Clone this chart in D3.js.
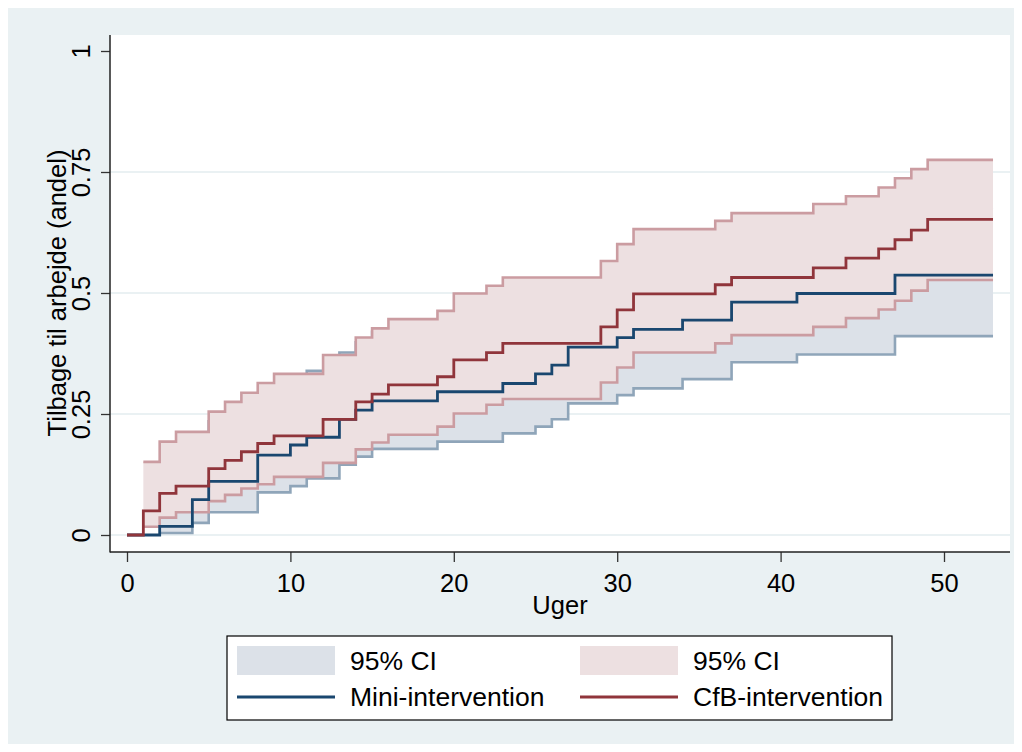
<!DOCTYPE html>
<html>
<head>
<meta charset="utf-8">
<script src="https://cdn.jsdelivr.net/npm/d3@7"></script>
<style>
  body { margin: 0; background: #fff; }
  svg text { font-family: "Liberation Sans", Arial, sans-serif; fill: #000; }
</style>
</head>
<body>
<div id="chart"></div>
<script>
// Mini-intervention: trin-tider (uger) og kumuleret andel tilbage i arbejde
const miniWeeks = [0, 2, 4, 5, 8, 10, 11, 13, 14, 15, 19, 23, 25, 26, 27, 30, 31, 34, 37, 41, 47, 53];
const miniEst   = [0, 0.018, 0.073, 0.111, 0.165, 0.186, 0.202, 0.239, 0.258, 0.277, 0.296, 0.313, 0.333, 0.351, 0.388, 0.408, 0.425, 0.444, 0.481, 0.499, 0.537, 0.537];

const miniCiWeeks = [2, 4, 5, 8, 10, 11, 13, 14, 15, 19, 23, 25, 26, 27, 30, 31, 34, 37, 41, 47, 53];
const miniLower   = [0.004, 0.025, 0.047, 0.088, 0.101, 0.117, 0.145, 0.162, 0.178, 0.193, 0.210, 0.224, 0.239, 0.272, 0.289, 0.303, 0.322, 0.357, 0.373, 0.411, 0.411];
const miniUpper   = [0.125, 0.19, 0.235, 0.29, 0.315, 0.339, 0.377, 0.398, 0.42, 0.44, 0.46, 0.48, 0.50, 0.525, 0.55, 0.565, 0.585, 0.62, 0.64, 0.673, 0.673];

// CfB-intervention
const cfbWeeks = [0, 1, 2, 3, 5, 6, 7, 8, 9, 12, 14, 15, 16, 19, 20, 22, 23, 29, 30, 31, 36, 37, 42, 44, 46, 47, 48, 49, 53];
const cfbEst   = [0, 0.050, 0.086, 0.101, 0.137, 0.154, 0.172, 0.189, 0.205, 0.239, 0.275, 0.291, 0.310, 0.327, 0.362, 0.377, 0.396, 0.430, 0.465, 0.498, 0.517, 0.532, 0.552, 0.572, 0.591, 0.610, 0.630, 0.652, 0.652];

const cfbCiWeeks = [1, 2, 3, 5, 6, 7, 8, 9, 12, 14, 15, 16, 19, 20, 22, 23, 29, 30, 31, 36, 37, 42, 44, 46, 47, 48, 49, 53];
const cfbLower   = [0.017, 0.036, 0.047, 0.070, 0.083, 0.096, 0.105, 0.120, 0.149, 0.177, 0.191, 0.207, 0.224, 0.251, 0.269, 0.281, 0.315, 0.346, 0.377, 0.396, 0.413, 0.430, 0.448, 0.466, 0.484, 0.505, 0.527, 0.527];
const cfbUpper   = [0.151, 0.193, 0.213, 0.255, 0.275, 0.294, 0.314, 0.333, 0.372, 0.408, 0.427, 0.446, 0.463, 0.499, 0.515, 0.532, 0.566, 0.601, 0.632, 0.649, 0.665, 0.684, 0.700, 0.718, 0.737, 0.756, 0.775, 0.775];

const xTicks = [0, 10, 20, 30, 40, 50];
const yTicks = [0, 0.25, 0.5, 0.75, 1];
const yTickLabels = ["0", "0.25", "0.5", "0.75", "1"];

const W = 1022, H = 752;
const plot = { left: 110, right: 1010, top: 35, bottom: 552 };
const fontSize = "25.5px";

const svg = d3.select("#chart").append("svg")
    .attr("width", W)
    .attr("height", H);

// bagrund
svg.append("rect").attr("x", 0).attr("y", 0).attr("width", W).attr("height", H).attr("fill", "#fff");
svg.append("rect").attr("x", 8).attr("y", 8).attr("width", W - 16).attr("height", H - 16).attr("fill", "#eaf1f3");
svg.append("rect")
    .attr("x", plot.left).attr("y", plot.top)
    .attr("width", plot.right - plot.left).attr("height", plot.bottom - plot.top)
    .attr("fill", "#fff");

const x = d3.scaleLinear().domain([0, 50]).range([127, 944]);
const y = d3.scaleLinear().domain([0, 1]).range([535, 51]);

// gitterlinjer
svg.selectAll(".grid")
    .data(yTicks.slice(0, 4))
    .enter()
    .append("line")
    .attr("x1", plot.left).attr("x2", plot.right)
    .attr("y1", d => y(d)).attr("y2", d => y(d))
    .attr("stroke", "#eaf1f3")
    .attr("stroke-width", 2);

const toPts = (weeks, vals) => weeks.map((w, i) => ({ w: w, v: vals[i] }));
const toBand = (weeks, lo, hi) => weeks.map((w, i) => ({ w: w, lo: lo[i], hi: hi[i] }));

const line = d3.line()
    .x(d => x(d.w))
    .y(d => y(d.v))
    .curve(d3.curveStepAfter);

const area = d3.area()
    .x(d => x(d.w))
    .y0(d => y(d.lo))
    .y1(d => y(d.hi))
    .curve(d3.curveStepAfter);

const series = [
    { name: "mini", band: toBand(miniCiWeeks, miniLower, miniUpper),
      lo: toPts(miniCiWeeks, miniLower), hi: toPts(miniCiWeeks, miniUpper),
      est: toPts(miniWeeks, miniEst),
      fill: "#dce1e8", edge: "#8fa5b9", color: "#1a476f" },
    { name: "cfb", band: toBand(cfbCiWeeks, cfbLower, cfbUpper),
      lo: toPts(cfbCiWeeks, cfbLower), hi: toPts(cfbCiWeeks, cfbUpper),
      est: toPts(cfbWeeks, cfbEst),
      fill: "#ede0e1", edge: "#cb9ca1", color: "#90353b" }
];

// konfidensbånd
series.forEach(s => {
    svg.append("path")
        .attr("d", area(s.band))
        .attr("fill", s.fill);
    [s.lo, s.hi].forEach(b => {
        svg.append("path")
            .attr("d", line(b))
            .attr("fill", "none")
            .attr("stroke", s.edge)
            .attr("stroke-width", 2.6);
    });
});

// estimater
series.forEach(s => {
    svg.append("path")
        .attr("d", line(s.est))
        .attr("fill", "none")
        .attr("stroke", s.color)
        .attr("stroke-width", 2.8);
});

// akser
const yAxis = svg.append("g")
    .attr("transform", "translate(" + plot.left + ",0)")
    .call(d3.axisLeft(y).tickValues(yTicks).tickSize(9).tickFormat((d, i) => yTickLabels[i]));
yAxis.select(".domain").remove();
yAxis.selectAll(".tick line").attr("stroke", "#333").attr("stroke-width", 1.3);
yAxis.selectAll(".tick text")
    .attr("x", null).attr("dy", null)
    .attr("transform", "translate(-20,0) rotate(-90)")
    .attr("text-anchor", "middle")
    .style("font-size", fontSize);

const xAxis = svg.append("g")
    .attr("transform", "translate(0," + plot.bottom + ")")
    .call(d3.axisBottom(x).tickValues(xTicks).tickSize(10).tickFormat(d3.format("d")));
xAxis.select(".domain").remove();
xAxis.selectAll(".tick line").attr("stroke", "#333").attr("stroke-width", 1.3);
xAxis.selectAll(".tick text")
    .attr("y", 40).attr("dy", null)
    .style("font-size", fontSize);

svg.append("line")
    .attr("x1", plot.left).attr("x2", plot.left)
    .attr("y1", plot.top).attr("y2", plot.bottom + 0.5)
    .attr("stroke", "#222").attr("stroke-width", 1.5);
svg.append("line")
    .attr("x1", plot.left).attr("x2", plot.right)
    .attr("y1", plot.bottom).attr("y2", plot.bottom)
    .attr("stroke", "#222").attr("stroke-width", 1.5);

// aksetitler
svg.append("text")
    .attr("x", (plot.left + plot.right) / 2)
    .attr("y", 614)
    .attr("text-anchor", "middle")
    .style("font-size", fontSize)
    .text("Uger");

svg.append("text")
    .attr("transform", "translate(66," + y(0.5) + ") rotate(-90)")
    .attr("text-anchor", "middle")
    .style("font-size", fontSize)
    .text("Tilbage til arbejde (andel)");

// forklaring
const legend = svg.append("g");
legend.append("rect")
    .attr("x", 227).attr("y", 636)
    .attr("width", 665).attr("height", 84)
    .attr("fill", "#fff")
    .attr("stroke", "#000").attr("stroke-width", 1.2);

const legendItems = [
    { col: 0, row: 0, kind: "box", color: series[0].fill, label: "95% CI" },
    { col: 1, row: 0, kind: "box", color: series[1].fill, label: "95% CI" },
    { col: 0, row: 1, kind: "line", color: series[0].color, label: "Mini-intervention" },
    { col: 1, row: 1, kind: "line", color: series[1].color, label: "CfB-intervention" }
];
legendItems.forEach(it => {
    const x0 = it.col === 0 ? 237 : 580;
    const yMid = it.row === 0 ? 661 : 697;
    if (it.kind === "box") {
        legend.append("rect")
            .attr("x", x0).attr("y", yMid - 15)
            .attr("width", 98).attr("height", 29)
            .attr("fill", it.color);
    } else {
        legend.append("line")
            .attr("x1", x0).attr("x2", x0 + 98)
            .attr("y1", yMid).attr("y2", yMid)
            .attr("stroke", it.color).attr("stroke-width", 2.8);
    }
    legend.append("text")
        .attr("x", x0 + 113)
        .attr("y", yMid + 9)
        .style("font-size", "26.5px")
        .text(it.label);
});
</script>
</body>
</html>
